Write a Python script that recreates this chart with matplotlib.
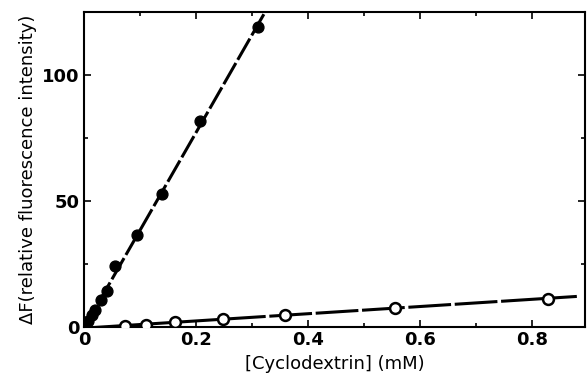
import numpy as np
import matplotlib.pyplot as plt
from matplotlib.ticker import MultipleLocator

# filled circles
x_filled = [0.008, 0.014, 0.020, 0.030, 0.042, 0.056, 0.094, 0.139, 0.207, 0.311]
y_filled = [2.4, 4.8, 6.8, 10.6, 14.4, 24.0, 36.3, 52.7, 81.6, 119.0]

# open circles
x_open = [0.073, 0.111, 0.163, 0.248, 0.359, 0.555, 0.829]
y_open = [0.4, 0.9, 2.0, 3.2, 4.8, 7.6, 11.2]

x_ticks = [0, 0.2, 0.4, 0.6, 0.8]
x_ticklabels = ['0', '0.2', '0.4', '0.6', '0.8']
y_ticks = [0, 50, 100]

fig = plt.figure(figsize=(5.87, 3.86), dpi=100)
ax = fig.add_axes([0.143, 0.153, 0.854, 0.816])

# fitted lines through each series
p1 = np.polyfit(x_filled, y_filled, 1)
xx1 = np.linspace(0, 0.33, 50)
ax.plot(xx1, np.polyval(p1, xx1), color='black', lw=2.2, dashes=(8, 1.2))

p2 = np.polyfit(x_open, y_open, 1)
xx2 = np.linspace(0, 0.88, 50)
ax.plot(xx2, np.polyval(p2, xx2), color='black', lw=2.2, dashes=(14, 1.2))

ax.plot(x_filled, y_filled, 'o', color='black', ms=7.8, zorder=3)
ax.plot(x_open, y_open, 'o', mfc='white', mec='black', mew=1.8, ms=7.8, zorder=3)

ax.set_xlim(0, 0.895)
ax.set_ylim(0, 125)
ax.set_xticks(x_ticks)
ax.set_xticklabels(x_ticklabels)
ax.set_yticks(y_ticks)
ax.xaxis.set_minor_locator(MultipleLocator(0.1))
ax.yaxis.set_minor_locator(MultipleLocator(25))
ax.tick_params(which='both', direction='in', top=True, right=True, width=1.2)
ax.tick_params(which='major', length=5, labelsize=13, pad=3)
ax.tick_params(which='minor', length=3)
for lab in ax.get_xticklabels() + ax.get_yticklabels():
    lab.set_fontweight('bold')
for s in ax.spines.values():
    s.set_linewidth(1.5)

ax.set_xlabel('[Cyclodextrin] (mM)', fontsize=13, labelpad=4)
ax.set_ylabel('ΔF(relative fluorescence intensity)', fontsize=13, labelpad=4)

fig.savefig('out.png', dpi=100)
